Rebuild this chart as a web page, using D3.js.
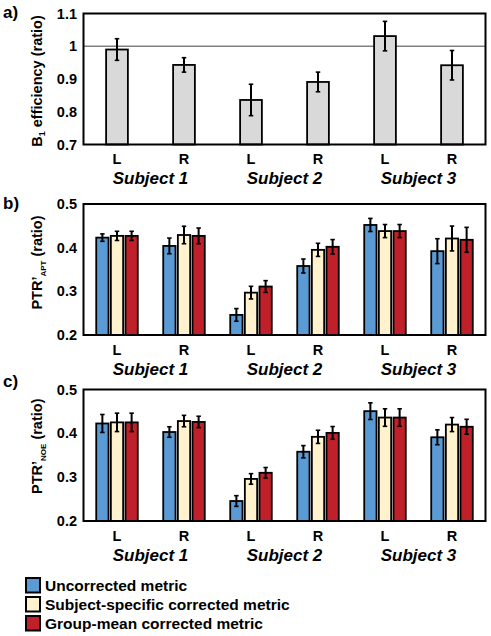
<!DOCTYPE html>
<html><head><meta charset="utf-8">
<script src="https://cdn.jsdelivr.net/npm/d3@7"></script>
<style>
html,body{margin:0;padding:0;background:#fff;}
svg{display:block;font-family:"Liberation Sans",Arial,sans-serif;}
</style></head>
<body>
<svg id="chart" width="491" height="636"></svg>
<script>
// ---------- DATA ----------
const categories = ["S1-L","S1-R","S2-L","S2-R","S3-L","S3-R"];
const sideLabels = ["L","R","L","R","L","R"];
const subjectLabels = ["Subject 1","Subject 2","Subject 3"];
const seriesNames = ["Uncorrected metric","Subject-specific corrected metric","Group-mean corrected metric"];

const b1Mean = [0.990, 0.943, 0.836, 0.891, 1.031, 0.942];
const b1Err  = [0.033, 0.022, 0.048, 0.030, 0.045, 0.045];
const b1Ticks = [0.7, 0.8, 0.9, 1.0, 1.1];
const b1TickLabels = ["0.7","0.8","0.9","1","1.1"];
const b1Reference = 1.0;

const aptUncorr    = [0.423, 0.404, 0.246, 0.358, 0.452, 0.392];
const aptUncorrErr = [0.0085, 0.018, 0.0145, 0.016, 0.015, 0.0285];
const aptSubj      = [0.427, 0.429, 0.297, 0.395, 0.438, 0.421];
const aptSubjErr   = [0.0105, 0.020, 0.0145, 0.015, 0.015, 0.0285];
const aptGroup     = [0.427, 0.427, 0.311, 0.402, 0.438, 0.418];
const aptGroupErr  = [0.0105, 0.018, 0.0135, 0.0165, 0.015, 0.0285];

const noeUncorr    = [0.4225, 0.403, 0.2456, 0.358, 0.4506, 0.391];
const noeUncorrErr = [0.0205, 0.012, 0.0122, 0.014, 0.019, 0.017];
const noeSubj      = [0.425, 0.428, 0.296, 0.392, 0.436, 0.420];
const noeSubjErr   = [0.021, 0.013, 0.012, 0.015, 0.020, 0.016];
const noeGroup     = [0.425, 0.426, 0.310, 0.401, 0.436, 0.415];
const noeGroupErr  = [0.021, 0.013, 0.012, 0.0145, 0.020, 0.017];

const ptrTicks = [0.2, 0.3, 0.4, 0.5];
const ptrTickLabels = ["0.2","0.3","0.4","0.5"];

// ---------- STYLE / LAYOUT ----------
const seriesColors = ["#5B9BD5", "#FFF2CC", "#C0202A"];
const grayFill = "#D9D9D9";
const L = 83.5, R = 485.5;
const svg = d3.select("#chart");
const FONT = "\"Liberation Sans\", Arial, sans-serif";

const x = d3.scaleBand().domain(categories).range([L, R]).paddingInner(0).paddingOuter(0);
const bw = x.bandwidth();

function frame(g, top, bottom, yScale, ticks, tickLabels, panelLabel, panelLabelY) {
  // axis labels (left)
  const ax = d3.axisLeft(yScale).tickValues(ticks)
    .tickFormat((d,i) => tickLabels[i]).tickSize(0).tickPadding(6.5);
  const ag = g.append("g").attr("transform", `translate(${L},0)`).call(ax);
  ag.select(".domain").remove();
  ag.selectAll("text").attr("font-family", FONT).attr("font-size", 14.5)
    .attr("font-weight", "bold").attr("fill", "#000");
  // bottom axis labels
  const bx = d3.axisBottom(x).tickFormat((d,i) => sideLabels[i]).tickSize(0).tickPadding(0);
  const bg = g.append("g").attr("transform", `translate(0,${bottom})`).call(bx);
  bg.select(".domain").remove();
  bg.selectAll("text").attr("font-family", FONT).attr("font-size", 14.5)
    .attr("font-weight", "bold").attr("fill", "#000").attr("dy", null).attr("y", 19.5);
  // subject labels
  g.selectAll("text.subj").data(subjectLabels).enter().append("text")
    .attr("class", "subj")
    .attr("x", (d,i) => (x(categories[2*i]) + x(categories[2*i+1]) + bw) / 2)
    .attr("y", bottom + 39.5)
    .attr("text-anchor", "middle")
    .attr("font-family", FONT).attr("font-size", 17).attr("font-weight", "bold")
    .attr("font-style", "italic").text(d => d);
  // panel label
  g.append("text").attr("x", 3).attr("y", panelLabelY)
    .attr("font-family", FONT).attr("font-size", 17).attr("font-weight", "bold").text(panelLabel);
}

function box(g, top, bottom) {
  g.append("rect").attr("x", L).attr("y", top).attr("width", R - L).attr("height", bottom - top)
    .attr("fill", "none").attr("stroke", "#000").attr("stroke-width", 2);
}

function errorBars(g, cx, mean, err, yScale, cap) {
  const eg = g.append("g");
  mean.forEach((m, i) => {
    const xc = cx(i);
    const y1 = yScale(m + err[i]), y2 = yScale(m - err[i]);
    eg.append("line").attr("x1", xc).attr("x2", xc).attr("y1", y1).attr("y2", y2)
      .attr("stroke", "#000").attr("stroke-width", 2);
    eg.append("line").attr("x1", xc - cap/2).attr("x2", xc + cap/2).attr("y1", y1).attr("y2", y1)
      .attr("stroke", "#000").attr("stroke-width", 1.6);
    eg.append("line").attr("x1", xc - cap/2).attr("x2", xc + cap/2).attr("y1", y2).attr("y2", y2)
      .attr("stroke", "#000").attr("stroke-width", 1.6);
  });
}

// ---------- PANEL A ----------
(function() {
  const top = 13.5, bottom = 144.5;
  const y = d3.scaleLinear().domain([0.7, 1.1]).range([bottom, top]);
  const g = svg.append("g");
  frame(g, top, bottom, y, b1Ticks, b1TickLabels, "a)", 18);
  const barW = bw * 0.325;
  g.append("line").attr("x1", L).attr("x2", R).attr("y1", y(b1Reference)).attr("y2", y(b1Reference))
    .attr("stroke", "#808080").attr("stroke-width", 1.6);
  g.selectAll("rect.bar").data(b1Mean).enter().append("rect").attr("class", "bar")
    .attr("x", (d,i) => x(categories[i]) + bw/2 - barW/2)
    .attr("y", d => y(d)).attr("width", barW).attr("height", d => bottom - y(d))
    .attr("fill", grayFill).attr("stroke", "#000").attr("stroke-width", 1.8);
  errorBars(g, i => x(categories[i]) + bw/2, b1Mean, b1Err, y, 4.5);
  box(g, top, bottom);
  // y title
  const t = g.append("text").attr("transform", `translate(41.5,${(top+bottom)/2 + 2}) rotate(-90)`)
    .attr("text-anchor", "middle").attr("font-family", FONT).attr("font-size", 14.5).attr("font-weight", "bold");
  t.append("tspan").text("B");
  t.append("tspan").attr("font-size", 9).attr("dy", 3).text("1");
  t.append("tspan").attr("dy", -3).text(" efficiency (ratio)");
})();

// ---------- PANELS B & C ----------
function groupedPanel(top, bottom, series, errs, titleSub, panelLabel, panelLabelY, titleShift) {
  const y = d3.scaleLinear().domain([0.2, 0.5]).range([bottom, top]);
  const g = svg.append("g");
  frame(g, top, bottom, y, ptrTicks, ptrTickLabels, panelLabel, panelLabelY);
  const gw = bw * 0.62;
  const x1 = d3.scaleBand().domain(d3.range(series.length)).range([-gw/2, gw/2]).paddingInner(0.16);
  series.forEach((vals, s) => {
    g.selectAll(null).data(vals).enter().append("rect")
      .attr("x", (d,i) => x(categories[i]) + bw/2 + x1(s))
      .attr("y", d => y(d)).attr("width", x1.bandwidth()).attr("height", d => bottom - y(d))
      .attr("fill", seriesColors[s]).attr("stroke", "#000").attr("stroke-width", 1.8);
  });
  series.forEach((vals, s) => {
    errorBars(g, i => x(categories[i]) + bw/2 + x1(s) + x1.bandwidth()/2, vals, errs[s], y, 4.5);
  });
  box(g, top, bottom);
  const t = g.append("text").attr("transform", `translate(41.5,${(top+bottom)/2 + titleShift}) rotate(-90)`)
    .attr("text-anchor", "middle").attr("font-family", FONT).attr("font-size", 14.5).attr("font-weight", "bold");
  t.append("tspan").text("PTR\u2019");
  t.append("tspan").attr("font-size", 8).attr("dy", 4).text(titleSub);
  t.append("tspan").attr("dy", -4).text(" (ratio)");
}

groupedPanel(204, 335, [aptUncorr, aptSubj, aptGroup], [aptUncorrErr, aptSubjErr, aptGroupErr], "APT", "b)", 209, -7);
groupedPanel(389.5, 521, [noeUncorr, noeSubj, noeGroup], [noeUncorrErr, noeSubjErr, noeGroupErr], "NOE", "c)", 387, -9);

// ---------- LEGEND ----------
const lg = svg.append("g");
lg.selectAll("rect").data(seriesNames).enter().append("rect")
  .attr("x", 26).attr("y", (d,i) => 578 + i * 19).attr("width", 14).attr("height", 14.5)
  .attr("fill", (d,i) => seriesColors[i]).attr("stroke", "#000").attr("stroke-width", 2);
lg.selectAll("text").data(seriesNames).enter().append("text")
  .attr("x", 45).attr("y", (d,i) => 591 + i * 19)
  .attr("font-family", FONT).attr("font-size", 15.5).attr("font-weight", "bold").text(d => d);
</script>
</body></html>
